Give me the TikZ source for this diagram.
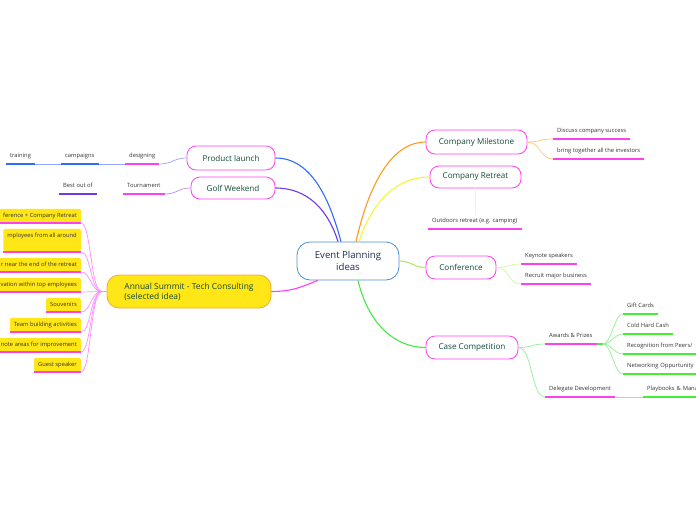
\documentclass[tikz,border=0pt]{standalone}
\usepackage{fontspec}
\setmainfont{Open Sans}
\usetikzlibrary{positioning}

\definecolor{rootblue}{HTML}{4A8FD8}
\definecolor{rootink}{HTML}{1C2C52}
\definecolor{topicpink}{HTML}{FF40F0}
\definecolor{topicink}{HTML}{0F4A3A}
\definecolor{leafink}{HTML}{333333}
\definecolor{ideayellow}{HTML}{FFE617}
\definecolor{ideaorange}{HTML}{F5A83A}
\definecolor{brblue}{HTML}{2F6BFF}
\definecolor{brpurple}{HTML}{7038EA}
\definecolor{brorange}{HTML}{FF9A1F}
\definecolor{bryellow}{HTML}{F5F53A}
\definecolor{brlime}{HTML}{AAF060}
\definecolor{brgreen}{HTML}{44E844}
\definecolor{brpink}{HTML}{FF3DFF}
\definecolor{lnblue}{HTML}{96A6FF}
\definecolor{lnpurple}{HTML}{B48EF2}
\definecolor{lnorange}{HTML}{FFC880}
\definecolor{lnyellow}{HTML}{FAFA99}
\definecolor{lnlime}{HTML}{CFF5A0}
\definecolor{lngreen}{HTML}{90F090}
\definecolor{lnpink}{HTML}{FF8CFF}
\definecolor{ulgreen}{HTML}{44EE33}

\begin{document}
\begin{tikzpicture}[
      x=1pt, y=-1pt,
      root/.style = {draw=rootblue, thick, fill=white, rounded corners=13pt, minimum width=102pt, minimum height=38pt, align=center, text=rootink, font=\fontsize{9.6}{11.5}\selectfont},
      topic/.style = {draw=topicpink, thick, fill=white, rounded corners=9pt, inner sep=0pt, text=topicink, font=\fontsize{8.1}{9.6}\selectfont},
      leaf/.style = {anchor=south west, inner xsep=4pt, inner ysep=4pt, text height=4.5pt, text depth=2pt, text=leafink, font=\fontsize{5.8}{6.5}\selectfont},
      idea/.style = {anchor=south east, fill=ideayellow, rounded corners=2pt, inner xsep=4pt, inner ysep=4pt, text height=4.5pt, text depth=1.5pt, text=leafink, font=\fontsize{5.8}{6.5}\selectfont},
      uline/.style = {line width=1.6pt},
      branch/.style = {line width=1.1pt},
      twig/.style = {line width=0.7pt}
    ]
    \useasboundingbox (0,0) rectangle (696,520);

    % centre and main topics
    \node[root] (ctr) at (348,261) {Event Planning\\ideas};
    \node[topic, minimum width=88pt, minimum height=24pt] (prod) at (231,158) {Product launch};
    \node[topic, minimum width=84pt, minimum height=22pt] (golf) at (233,188) {Golf Weekend};
    \node[topic, minimum width=101pt, minimum height=24pt] (mile) at (476.5,142) {Company Milestone};
    \node[topic, minimum width=91pt, minimum height=22pt] (retr) at (475.5,177) {Company Retreat};
    \node[topic, minimum width=70pt, minimum height=23pt] (conf) at (461,267.5) {Conference};
    \node[topic, minimum width=92pt, minimum height=23pt] (casec) at (472,347.5) {Case Competition};
    \node[topic, draw=ideaorange, fill=ideayellow, rounded corners=12pt, minimum width=164pt, minimum height=33pt, align=left, font=\fontsize{8.4}{10}\selectfont] (summit) at (189,291.5) {Annual Summit - Tech Consulting\\(selected idea)};

    \draw[branch, brblue] ([xshift=-7pt]ctr.north) .. controls +(-12,-45) and +(35,0) .. (prod.east);
    \draw[branch, brpurple] ([xshift=-10pt]ctr.north) .. controls +(-10,-32) and +(32,0) .. (golf.east);
    \draw[branch, brorange] ([xshift=8pt]ctr.north) .. controls +(14,-62) and +(-32,0) .. (mile.west);
    \draw[branch, bryellow] ([xshift=11pt]ctr.north) .. controls +(14,-42) and +(-32,0) .. (retr.west);
    \draw[branch, brlime] (ctr.east) .. controls +(12,0) and +(-12,0) .. (conf.west);
    \draw[branch, brgreen] ([xshift=10pt]ctr.south) .. controls +(10,42) and +(-32,0) .. (casec.west);
    \draw[branch, brpink] ([xshift=-30pt]ctr.south) .. controls +(-16,6) and +(22,0) .. (summit.east);

    % right side leaves
    \node[leaf] (disc) at (553,139) {Discuss company success};
    \node[leaf] (inv) at (553,159) {bring together all the investors};
    \node[leaf] (outd) at (428,229) {Outdoors retreat (e.g. camping)};
    \node[leaf] (key) at (521,264) {Keynote speakers};
    \node[leaf] (recr) at (521,284) {Recruit major business};
    \node[leaf] (award) at (545,344) {Awards \& Prizes};
    \node[leaf] (deleg) at (545,397) {Delegate Development};
    \node[leaf] (gift) at (623,314) {Gift Cards};
    \node[leaf] (cash) at (623,334) {Cold Hard Cash};
    \node[leaf] (recog) at (623,354) {Recognition from Peers/};
    \node[leaf, minimum width=90pt, align=left, text width=82pt] (netw) at (623,374) {Networking Oppurtunity};
    \node[leaf, minimum width=70pt, align=left, text width=62pt] (play) at (643,397) {Playbooks \& Mana};

    \foreach \n in {disc,inv,outd,key,recr,award,deleg}
      \draw[uline, topicpink] (\n.south west) -- (\n.south east);
    \foreach \n in {gift,cash,play}
      \draw[uline, ulgreen] (\n.south west) -- (\n.south east);
    \draw[uline, ulgreen] (recog.south west) -- ++(80,0);
    \draw[uline, ulgreen] (netw.south west) -- (netw.south east);

    \foreach \n in {disc,inv}
      \draw[twig, lnorange] (mile.east) .. controls +(13,0) and +(-13,0) .. (\n.south west);
    \draw[twig, lnyellow] (retr.south) -- (retr.south |- outd.north);
    \foreach \n in {key,recr}
      \draw[twig, lnlime] (conf.east) .. controls +(13,0) and +(-13,0) .. (\n.south west);
    \foreach \n in {award,deleg}
      \draw[twig, lngreen] (casec.east) .. controls +(14,0) and +(-14,0) .. (\n.south west);
    \draw[uline, ulgreen] (award.south east) -- ++(6,0) coordinate (fork);
    \foreach \n in {gift,cash,recog,netw}
      \draw[twig, lngreen] (fork) .. controls +(9,0) and +(-9,0) .. (\n.south west);
    \draw[twig, lngreen] (deleg.south east) -- (play.south west);

    % left side leaves
    \node[leaf] (design) at (125,164) {designing};
    \node[leaf] (camp) at (61,164) {campaigns};
    \node[leaf] (train) at (6,164) {training};
    \node[leaf] (tourn) at (123,194) {Tournament};
    \node[leaf] (best) at (59,194) {Best out of};

    \draw[uline, topicpink] (design.south west) -- (design.south east);
    \draw[uline, brblue] (camp.south west) -- (camp.south east);
    \draw[uline, brblue] (train.south west) -- (train.south east);
    \draw[uline, topicpink] (tourn.south west) -- (tourn.south east);
    \draw[uline, brpurple] (best.south west) -- (best.south east);

    \draw[twig, lnblue] (prod.west) .. controls +(-13,0) and +(13,0) .. (design.south east);
    \draw[twig, lnblue] (design.south west) -- (camp.south east);
    \draw[twig, lnblue] (camp.south west) -- (train.south east);
    \draw[twig, lnpurple] (golf.west) .. controls +(-13,0) and +(13,0) .. (tourn.south east);

    % summit ideas
    \foreach \i/\y/\d/\t in {1/223/1.5/ference + Company Retreat,
                             2/252/10.5/mployees from all around,
                             3/272/1.5/r near the end of the retreat,
                             4/292/1.5/vation within top employees,
                             5/312/1.5/Souvenirs,
                             6/332/1.5/Team building activities,
                             7/352/1.5/note areas for improvement,
                             8/372/1.5/Guest speaker}{
      \node[idea, text depth=\d pt] (idea\i) at (81,\y) {\t};
      \draw[uline, topicpink] (idea\i.south west) -- (idea\i.south east);
      \draw[twig, lnpink] (summit.west) -- ++(-5,0) .. controls +(-11,0) and +(10,0) .. (idea\i.south east);
    }
  \end{tikzpicture}
\end{document}
